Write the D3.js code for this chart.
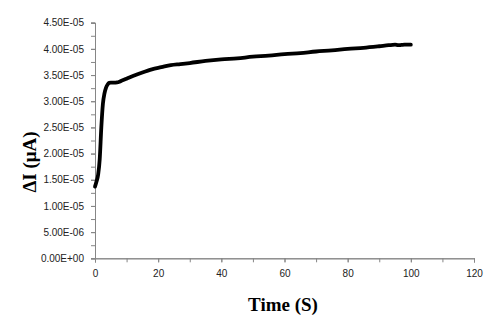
<!DOCTYPE html>
<html><head><meta charset="utf-8">
<script src="https://cdn.jsdelivr.net/npm/d3@7"></script>
<style>body{margin:0;background:#fff}svg{display:block}</style>
</head><body>
<svg id="c" width="500" height="329"></svg>
<script>
const times = [0,0.5,1,1.5,2,2.5,3,3.5,4,4.5,5,6,7,8,10,12,15,18,21,24,27,30,35,40,45,50,55,60,65,70,75,80,85,90,93,95,96,97,98,100];
const values = [1.37,1.47,1.6,1.9,2.5,2.95,3.15,3.26,3.32,3.35,3.355,3.355,3.36,3.38,3.43,3.48,3.55,3.61,3.65,3.69,3.71,3.73,3.77,3.80,3.82,3.85,3.87,3.90,3.92,3.95,3.97,4.00,4.02,4.05,4.07,4.08,4.07,4.075,4.08,4.08].map(v => v * 1e-5);
const yTicks = [0,5e-6,1e-5,1.5e-5,2e-5,2.5e-5,3e-5,3.5e-5,4e-5,4.5e-5];
const yTickLabels = ["0.00E+00","5.00E-06","1.00E-05","1.50E-05","2.00E-05","2.50E-05","3.00E-05","3.50E-05","4.00E-05","4.50E-05"];
const xTicks = [0,20,40,60,80,100,120];
const xTitle = "Time (S)";
const yTitle = "ΔI (μA)";

const svg = d3.select("#c");
const x = d3.scaleLinear().domain([0,120]).range([95,474]);
const y = d3.scaleLinear().domain([0,4.5e-5]).range([258.3,22.7]);
const axisColor = "#868686";
const font = "'Liberation Sans', Arial, sans-serif";

const yMinor = d3.range(0, 4.5e-5 + 1e-9, 2.5e-6);
svg.append("g").attr("transform","translate(95,0)")
  .call(d3.axisLeft(y).tickValues(yMinor).tickSize(4).tickFormat(""))
  .call(g => { g.select(".domain").attr("stroke",axisColor); g.selectAll("line").attr("stroke",axisColor); });
svg.append("g").attr("transform","translate(95,0)")
  .call(d3.axisLeft(y).tickValues(yTicks).tickSize(4).tickPadding(7).tickFormat((d,i)=>yTickLabels[i]))
  .call(g => { g.select(".domain").attr("stroke",axisColor); g.selectAll("line").attr("stroke",axisColor);
    g.selectAll("text").attr("font-family",font).attr("font-size",10).attr("fill","#222"); });

const xMinor = d3.range(0, 121, 10);
svg.append("g").attr("transform","translate(0,258.3)")
  .call(d3.axisBottom(x).tickValues(xMinor).tickSize(4).tickFormat(""))
  .call(g => { g.select(".domain").attr("stroke",axisColor); g.selectAll("line").attr("stroke",axisColor); });
svg.append("g").attr("transform","translate(0,258.3)")
  .call(d3.axisBottom(x).tickValues(xTicks).tickSize(4).tickPadding(8).tickFormat(d3.format("d")))
  .call(g => { g.select(".domain").attr("stroke",axisColor); g.selectAll("line").attr("stroke",axisColor);
    g.selectAll("text").attr("font-family",font).attr("font-size",10).attr("fill","#222"); });

const line = d3.line().x((d,i)=>x(times[i])).y(d=>y(d)).curve(d3.curveMonotoneX);
svg.append("path").datum(values).attr("d",line).attr("fill","none")
  .attr("stroke","#000").attr("stroke-width",3.8).attr("stroke-linejoin","round").attr("stroke-linecap","round");

svg.append("text").attr("x",283).attr("y",311).attr("text-anchor","middle")
  .attr("font-family","'Liberation Serif','Times New Roman',serif").attr("font-weight","bold")
  .attr("font-size",19).attr("fill","#000").text(xTitle);
svg.append("text").attr("transform","translate(36,162) rotate(-90)").attr("text-anchor","middle")
  .attr("font-family","'Liberation Serif','Times New Roman',serif").attr("font-weight","bold")
  .attr("font-size",19).attr("fill","#000").text(yTitle);
</script>
</body></html>
